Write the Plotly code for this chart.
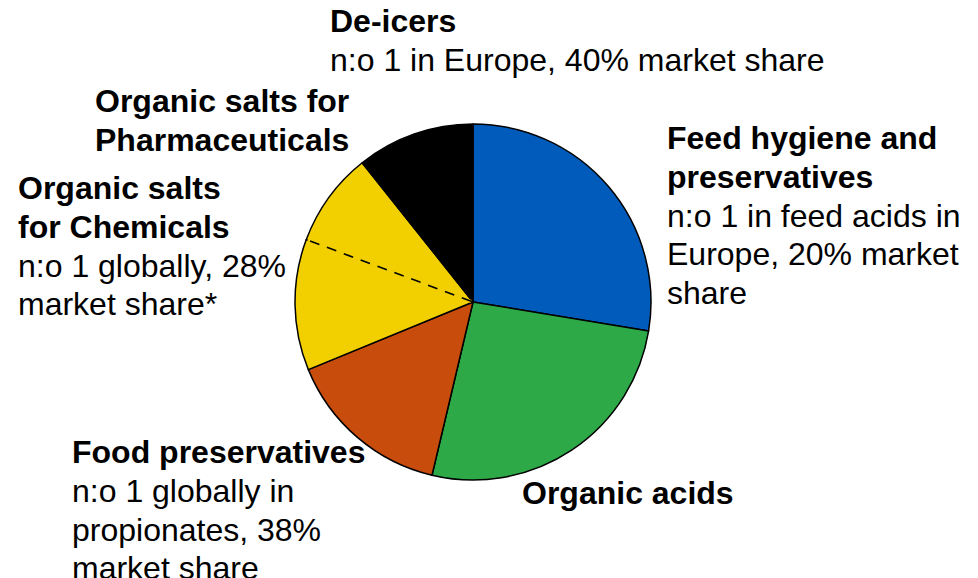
import math
import plotly.graph_objects as go

# Business segments, clockwise from 12 o'clock, with share of sales (%)
segments = [
    "Feed hygiene and preservatives",
    "Organic acids",
    "Food preservatives",
    "Organic salts for Chemicals",
    "Organic salts for Pharmaceuticals",
    "De-icers",
]
shares = [27.6, 26.1, 15.1, 11.9, 8.6, 10.7]
colors = ["#005BBB", "#2DAA47", "#C84C0C", "#F2D000", "#F2D000", "#000000"]

# Label blocks: bold heading lines and plain detail lines
titles = [
    ["Feed hygiene and", "preservatives"],
    ["Organic acids"],
    ["Food preservatives"],
    ["Organic salts", "for Chemicals"],
    ["Organic salts for", "Pharmaceuticals"],
    ["De-icers"],
]
details = [
    ["n:o 1 in feed acids in", "Europe, 20% market", "share"],
    [],
    ["n:o 1 globally in", "propionates, 38%", "market share"],
    ["n:o 1 globally, 28%", "market share*"],
    [],
    ["n:o 1 in Europe, 40% market share"],
]

W, H = 978, 578
CX, CY, R = 473, 302, 178  # pie centre and radius in pixels
LINE_GAP = 38.8            # baseline-to-baseline distance of label lines
FONT = "Liberation Sans, Arial, sans-serif"

# Label anchor points (left edge, centre of first line) in pixels
label_pos = [
    (666, 138),
    (521, 493),
    (71, 452),
    (17, 188),
    (94, 101),
    (329, 21),
]

fig = go.Figure()
fig.add_trace(go.Pie(
    labels=segments,
    values=shares,
    sort=False,
    direction="clockwise",
    rotation=0,
    marker=dict(colors=colors, line=dict(color="#000000", width=1.5)),
    textinfo="none",
    hoverinfo="label+percent",
    showlegend=False,
    domain=dict(x=[(CX - R) / W, (CX + R) / W],
                y=[1 - (CY + R) / H, 1 - (CY - R) / H]),
))


def to_paper(px, py):
    return px / W, 1 - py / H


# Dashed divider between the two organic-salt segments
total = sum(shares)
cum = sum(shares[:4]) / total
theta = 2 * math.pi * cum
ux, uy = math.sin(theta), -math.cos(theta)
x0, y0 = to_paper(CX + 2 * ux, CY + 2 * uy)
x1, y1 = to_paper(CX + (R - 1.5) * ux, CY + (R - 1.5) * uy)
fig.add_shape(type="line", xref="paper", yref="paper", x0=x0, y0=y0, x1=x1, y1=y1,
              line=dict(color=colors[3], width=3), layer="above")
fig.add_shape(type="line", xref="paper", yref="paper", x0=x0, y0=y0, x1=x1, y1=y1,
              line=dict(color="#000000", width=1.6, dash="10px,8px"), layer="above")

for t, d, (lx, ly) in zip(titles, details, label_pos):
    lines = ["<b>" + s + "</b>" for s in t] + list(d)
    for i, line in enumerate(lines):
        ax, ay = to_paper(lx, ly + i * LINE_GAP)
        fig.add_annotation(
            x=ax, y=ay, xref="paper", yref="paper",
            text=line, showarrow=False,
            xanchor="left", yanchor="middle", align="left",
            borderpad=0,
            font=dict(family=FONT, size=32, color="#000000"),
        )

fig.update_layout(
    width=W, height=H,
    margin=dict(l=0, r=0, t=0, b=0),
    paper_bgcolor="#FFFFFF",
    plot_bgcolor="#FFFFFF",
)

fig.write_html("out.html")
